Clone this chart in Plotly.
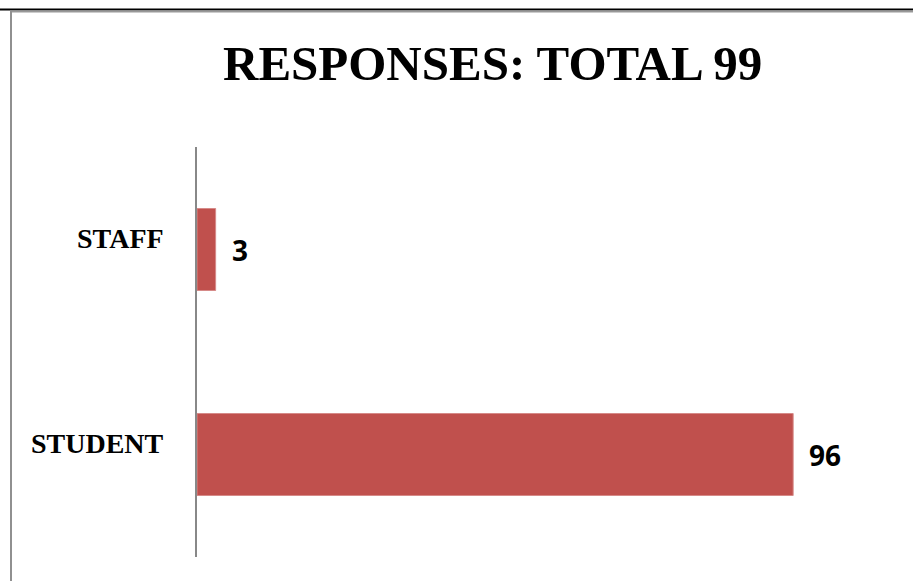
import plotly.graph_objects as go

categories = ["STUDENT", "STAFF"]
values = [96, 3]
title_text = "RESPONSES: TOTAL 99"

W, H = 915, 581
L, R, T, B = 197, 97, 147, 24
PW, PH = W - L - R, H - T - B

def px_x(px):
    return (px - L) / PW

def px_y(py):
    return 1 - (py - T) / PH

bar_color = "#C0504D"

fig = go.Figure()
fig.add_trace(go.Bar(
    y=categories, x=values, orientation="h",
    marker=dict(color=bar_color, line=dict(color="#D68A88", width=1)),
    width=0.4, showlegend=False, hoverinfo="skip",
))

annotations = []
for c, v in zip(categories, values):
    annotations.append(dict(
        x=v, y=c, xref="x", yref="y", text=str(v), showarrow=False,
        xanchor="left", yanchor="middle", xshift=14,
        font=dict(family="Open Sans", size=28, color="#000000", weight=700),
    ))
    annotations.append(dict(
        x=px_x(166), y=c, xref="paper", yref="y", text=c, showarrow=False,
        xanchor="right", yanchor="middle", yshift=11,
        font=dict(family="Liberation Serif", size=28, color="#000000", weight=700),
    ))
annotations.append(dict(
    x=px_x(492), y=px_y(63), xref="paper", yref="paper", text=title_text,
    showarrow=False, xanchor="center", yanchor="middle",
    font=dict(family="Liberation Serif", size=49, color="#000000", weight=700),
))

shapes = [
    dict(type="line", xref="paper", yref="paper",
         x0=px_x(0), x1=px_x(913), y0=px_y(9.5), y1=px_y(9.5),
         line=dict(color="#000000", width=2)),
    dict(type="line", xref="paper", yref="paper",
         x0=px_x(10), x1=px_x(913), y0=px_y(11.5), y1=px_y(11.5),
         line=dict(color="#999999", width=2)),
    dict(type="line", xref="paper", yref="paper",
         x0=px_x(11), x1=px_x(11), y0=px_y(11), y1=px_y(581),
         line=dict(color="#909090", width=2)),
]

fig.update_layout(
    width=W, height=H,
    margin=dict(l=L, r=R, t=T, b=B, pad=0),
    paper_bgcolor="#FFFFFF", plot_bgcolor="#FFFFFF",
    xaxis=dict(range=[0, 100], showgrid=False, zeroline=False, showline=False,
               showticklabels=False, ticks=""),
    yaxis=dict(range=[-0.5, 1.5], showgrid=False, zeroline=False, showline=True,
               linecolor="#888888", linewidth=2, showticklabels=False, ticks=""),
    annotations=annotations, shapes=shapes, bargap=0.6,
)

fig.write_html(
    "out.html",
    config={"displayModeBar": False},
    post_script="document.body.style.margin='0';document.body.style.overflow='hidden';",
)
